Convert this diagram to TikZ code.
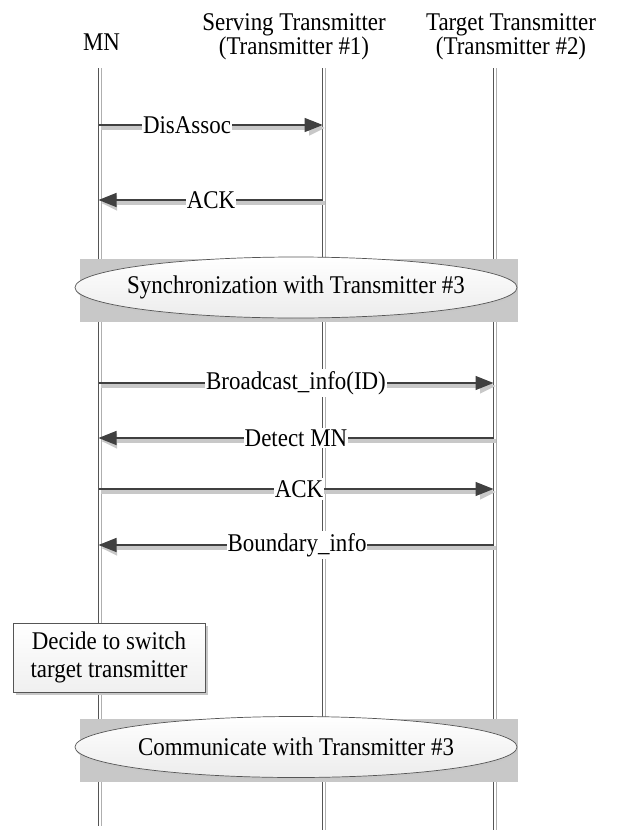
\documentclass[tikz,border=0pt]{standalone}
\usepackage{fontspec}
\setmainfont{Liberation Serif}[FakeStretch=0.9]
\usetikzlibrary{shapes.geometric,arrows.meta,shadows}
\definecolor{bargray}{RGB}{200,200,200}
\definecolor{linedark}{RGB}{85,85,85}
\definecolor{lifelight}{RGB}{175,175,175}
\definecolor{shadowgray}{RGB}{200,200,200}
\definecolor{arrowdark}{RGB}{64,64,64}
\begin{document}
\begin{tikzpicture}[x=1pt,y=-1pt,
  txt/.style={font=\fontsize{25.5}{24}\selectfont, inner sep=0pt},
  lifedark/.style={draw=linedark, line width=0.9pt},
  lifelite/.style={draw=lifelight, line width=1pt},
  msg/.style={draw=arrowdark, line width=1.2pt, -{Triangle[length=18pt,width=14pt]}},
  msgshadow/.style={draw=shadowgray, line width=4pt, -{Triangle[length=16pt,width=14pt]}},
  lbl/.style={txt, fill=white, inner xsep=1pt, inner ysep=2pt},
  bar/.style={fill=bargray, draw=none},
  phase/.style={ellipse, draw=linedark, line width=0.7pt, top color=white, bottom color=gray!15,
    minimum width=442pt, minimum height=61pt, inner sep=0pt, txt,
    drop shadow={shadow xshift=1pt, shadow yshift=-2pt, fill=gray!45, opacity=1}},
  decide/.style={rectangle, draw=linedark, line width=0.7pt, top color=white, bottom color=gray!12,
    minimum width=192pt, minimum height=69pt, align=center, txt, font=\fontsize{25.5}{28}\selectfont,
    drop shadow={shadow xshift=3pt, shadow yshift=-3pt, fill=shadowgray, opacity=1}},
]
\useasboundingbox (0,0) rectangle (616,830);

% headers
\node[txt, anchor=base] (mn) at (101.5,50) {MN};
\node[txt, align=center, anchor=base] (st) at (294,54) {Serving Transmitter\\(Transmitter \#1)};
\node[txt, align=center, anchor=base] (tt) at (511,54) {Target Transmitter\\(Transmitter \#2)};

% lifeline ends
\coordinate (mnTop) at (98.5,68);  \coordinate (mnBot) at (98.5,826);
\coordinate (stTop) at (322.7,68); \coordinate (stBot) at (322.7,830);
\coordinate (ttTop) at (493.5,68); \coordinate (ttBot) at (493.5,830);

\foreach \a/\b in {mnTop/mnBot, stTop/stBot, ttTop/ttBot}{
  \draw[lifelite] ([xshift=2.5pt]\a) -- ([xshift=2.5pt]\b);
  \draw[lifedark] (\a) -- (\b);
}

% message end points
\coordinate (m1) at (98.5,125);  \coordinate (s1) at (322.7,125);
\coordinate (m2) at (98.5,200);  \coordinate (s2) at (322.7,200);
\coordinate (m3) at (98.5,383);  \coordinate (t3) at (493.5,383);
\coordinate (m4) at (98.5,438);  \coordinate (t4) at (493.5,438);
\coordinate (m5) at (98.5,489);  \coordinate (t5) at (493.5,489);
\coordinate (m6) at (98.5,545);  \coordinate (t6) at (493.5,545);

\foreach \a/\b in {m1/s1, s2/m2, m3/t3, t4/m4, m5/t5, t6/m6}{
  \draw[msgshadow] ([shift={(2.5pt,-3pt)}]\a) -- ([shift={(2.5pt,-3pt)}]\b);
  \draw[msg] (\a) -- (\b);
}

\node[lbl] (l1) at (187,125) {DisAssoc};
\node[lbl] (l2) at (211,200) {ACK};
\node[lbl] (l3) at (296,383) {Broadcast\_info(ID)};
\node[lbl] (l4) at (296,438) {Detect MN};
\node[lbl] (l5) at (299,489) {ACK};
\node[lbl] (l6) at (297,545) {Boundary\_info};

% phase bars
\fill[bargray] (80,259) rectangle (518,322);
\node[phase] (sync) at (296,287.5) {\makebox[0pt][c]{Synchronization with Transmitter \#3}};
\fill[bargray] (80,719) rectangle (518,782);
\node[phase] (comm) at (296,747) {\makebox[0pt][c]{Communicate with Transmitter \#3}};

% decision box
\node[decide] (dec) at (109,657.5) {Decide to switch\\target transmitter};
\end{tikzpicture}
\end{document}
